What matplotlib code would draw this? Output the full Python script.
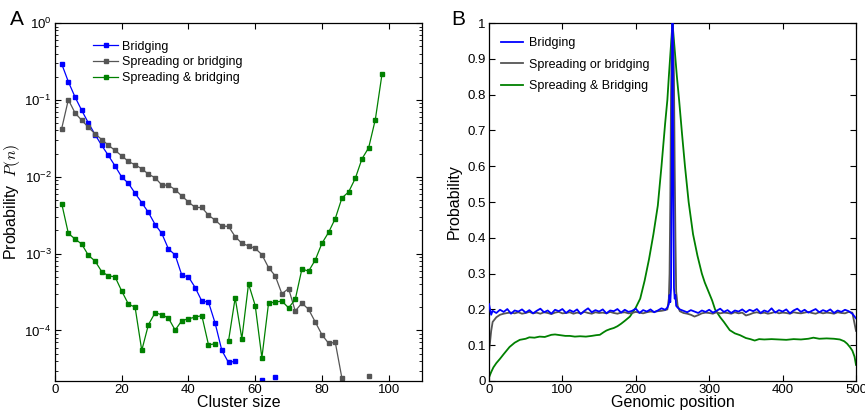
import numpy as np
import matplotlib
matplotlib.use("Agg")
import matplotlib.pyplot as plt
from matplotlib.ticker import LogLocator, NullFormatter, FixedLocator

plt.rcParams['font.family'] = ['Liberation Sans', 'DejaVu Sans']
plt.rcParams['mathtext.fontset'] = 'cm'

# ---- panel A: cluster size distribution ----
nan = np.nan
cluster_size = list(range(2, 100, 2))

p_bridging = [0.294, 0.172, 0.109, 0.0731, 0.0501, 0.0354, 0.0255, 0.0189, 0.0138, 0.0099,
              0.0082, 0.0061, 0.0046, 0.00343, 0.00239, 0.00183, 0.00115, 0.00096, 0.000524, 0.000498,
              0.000362, 0.000241, 0.000234, 0.000124, 5.5e-5, 3.83e-5, 3.98e-5, nan, nan, nan,
              2.25e-5, nan, 2.45e-5, nan, nan, nan, nan, nan, nan, nan,
              nan, nan, nan, nan, nan, nan, nan, nan, nan]

p_spread_or = [0.0424, 0.1006, 0.0676, 0.0543, 0.044, 0.0361, 0.0305, 0.0257, 0.022, 0.0187,
               0.0158, 0.0143, 0.0127, 0.0108, 0.0097, 0.0078, 0.00774, 0.0068, 0.00562, 0.0047,
               0.00398, 0.00398, 0.00316, 0.00272, 0.00228, 0.00226, 0.00166, 0.00136, 0.00126, 0.00117,
               0.00097, 0.000657, 0.000513, 0.0003, 0.000351, 0.000179, 0.000227, 0.000188, 0.000129, 8.8e-5,
               6.8e-5, 7.0e-5, 2.38e-5, nan, nan, nan, 2.57e-5, nan, nan]

p_spread_and = [0.00448, 0.00183, 0.00155, 0.00133, 0.00095, 0.0008, 0.000583, 0.000513, 0.000498, 0.000325,
                0.00022, 0.000201, 5.5e-5, 0.000119, 0.00017, 0.00016, 0.000145, 0.000101, 0.000134, 0.000142,
                0.000149, 0.000156, 6.5e-5, 6.7e-5, nan, 7.3e-5, 0.000266, 7.8e-5, 0.000404, 0.000211,
                4.4e-5, 0.000227, 0.000234, 0.000241, 0.000197, 0.000253, 0.000632, 0.00059, 0.000826, 0.00136,
                0.00189, 0.00286, 0.0053, 0.00634, 0.00953, 0.0171, 0.0238, 0.0554, 0.216]

# ---- panel B: probability along genome ----
pos_bg = ([0, 3] + list(range(5, 241, 5)) + [243] + list(range(245, 256)) + [257]
          + list(range(260, 496, 5)) + [500])

prob_bridging = ([0.215, 0.185]
                 + [0.196, 0.190, 0.199, 0.193, 0.201, 0.188, 0.197, 0.194, 0.200, 0.191,
                    0.198, 0.189, 0.196, 0.202, 0.192, 0.197, 0.188, 0.199, 0.195, 0.201,
                    0.190, 0.198, 0.193, 0.200, 0.187, 0.196, 0.203, 0.192, 0.198, 0.194,
                    0.200, 0.189, 0.197, 0.195, 0.201, 0.191, 0.199, 0.193, 0.196, 0.202,
                    0.190, 0.198, 0.194, 0.200, 0.192, 0.197, 0.203, 0.199]
                 + [0.205]
                 + [0.215, 0.24, 0.22, 0.26, 0.6, 1.0, 0.6, 0.26, 0.23, 0.24, 0.21]
                 + [0.205]
                 + [0.200, 0.196, 0.192, 0.198, 0.194, 0.190, 0.197, 0.193, 0.199, 0.191,
                    0.196, 0.202, 0.193, 0.198, 0.190, 0.197, 0.194, 0.200, 0.192, 0.199,
                    0.195, 0.201, 0.190, 0.197, 0.193, 0.203, 0.191, 0.198, 0.194, 0.200,
                    0.189, 0.197, 0.202, 0.193, 0.199, 0.191, 0.196, 0.201, 0.192, 0.198,
                    0.194, 0.200, 0.190, 0.197, 0.193, 0.199, 0.195, 0.188]
                 + [0.175])

prob_spread_or = ([0.08, 0.14]
                  + [0.165, 0.178, 0.185, 0.188, 0.190,
                     0.191, 0.189, 0.192, 0.188, 0.190, 0.193, 0.189, 0.191, 0.188, 0.192,
                     0.190, 0.187, 0.191, 0.193, 0.189, 0.190, 0.192, 0.188, 0.191, 0.189,
                     0.193, 0.190, 0.188, 0.192, 0.190, 0.191, 0.189, 0.193, 0.190, 0.188,
                     0.191, 0.192, 0.189, 0.190, 0.193, 0.191, 0.189, 0.192, 0.194, 0.193,
                     0.195, 0.196, 0.198]
                  + [0.2]
                  + [0.23, 0.3, 0.5, 0.8, 0.95, 1.0, 0.95, 0.85, 0.6, 0.4, 0.25]
                  + [0.21]
                  + [0.195, 0.190, 0.188, 0.185, 0.180, 0.184, 0.189, 0.191, 0.190, 0.188,
                     0.192, 0.189, 0.191, 0.190, 0.188, 0.192, 0.189, 0.191, 0.183, 0.186,
                     0.190, 0.192, 0.189, 0.191, 0.188, 0.190, 0.193, 0.189, 0.191, 0.190,
                     0.188, 0.192, 0.190, 0.189, 0.191, 0.193, 0.190, 0.188, 0.192, 0.189,
                     0.191, 0.190, 0.188, 0.192, 0.190, 0.189, 0.193, 0.191]
                  + [0.14])

pos_green = [0, 3, 6, 10, 15, 20, 28, 35, 42, 50, 55, 62, 69, 76, 85, 90, 97, 104, 110, 117,
             124, 132, 140, 146, 151, 156, 160, 165, 170, 175, 180, 185, 192, 200, 206, 212, 218, 224, 230, 235,
             240, 243, 245, 247.5, 250, 253, 256, 259, 263, 267, 272, 278, 284, 290, 294, 300, 304, 308, 315, 320,
             328, 335, 342, 350, 356, 362, 368, 375, 385, 395, 405, 415, 425, 435, 442, 450, 460, 470, 478, 484,
             488, 492, 495, 498, 500]
prob_spread_and = [0.01, 0.025, 0.038, 0.05, 0.062, 0.075, 0.095, 0.107, 0.115, 0.118,
                   0.122, 0.121, 0.124, 0.123, 0.129, 0.130, 0.128, 0.126, 0.126, 0.124,
                   0.125, 0.124, 0.126, 0.128, 0.129, 0.136, 0.141, 0.145, 0.148, 0.153,
                   0.16, 0.168, 0.18, 0.205, 0.23, 0.28, 0.34, 0.41, 0.49, 0.6,
                   0.72, 0.785, 0.85, 0.925, 1.0, 0.925, 0.85, 0.785, 0.69, 0.60,
                   0.50, 0.41, 0.35, 0.30, 0.275, 0.245, 0.225, 0.20, 0.178, 0.165,
                   0.142, 0.133, 0.128, 0.12, 0.117, 0.113, 0.117, 0.116, 0.117, 0.116,
                   0.115, 0.117, 0.116, 0.118, 0.121, 0.118, 0.119, 0.118, 0.116, 0.111,
                   0.104, 0.094, 0.085, 0.068, 0.045]

blue = '#0000ff'
grey = '#555555'
green = '#008000'

fig = plt.figure(figsize=(8.65, 4.11), dpi=100)
axA = fig.add_axes([0.0636, 0.073, 0.4243, 0.871])
axB = fig.add_axes([0.5653, 0.073, 0.4243, 0.871])

mk = dict(marker='s', markersize=3.3, linewidth=0.9)
axA.plot(cluster_size, p_bridging, color=blue, label='Bridging', **mk)
axA.plot(cluster_size, p_spread_or, color=grey, label='Spreading or bridging', **mk)
axA.plot(cluster_size, p_spread_and, color=green, label='Spreading & bridging', **mk)
axA.set_yscale('log')
axA.set_xlim(0, 110)
axA.set_ylim(2.2e-5, 1)
axA.set_xticks([0, 20, 40, 60, 80, 100])
axA.yaxis.set_major_locator(FixedLocator([1e-4, 1e-3, 1e-2, 1e-1, 1]))
axA.yaxis.set_minor_locator(LogLocator(base=10, subs=np.arange(2, 10), numticks=20))
axA.yaxis.set_minor_formatter(NullFormatter())
axA.set_xlabel('Cluster size', fontsize=11.5, labelpad=-1)
axA.set_ylabel('Probability  $P(n)$', fontsize=11.5, labelpad=2)
axA.legend(loc='upper left', bbox_to_anchor=(0.08, 0.975), frameon=False, fontsize=9,
           handlelength=2.0, handletextpad=0.3, labelspacing=0.3, borderaxespad=0.3)

axB.plot(pos_bg, prob_spread_or, color=grey, linewidth=1.3, label='Spreading or bridging')
axB.plot(pos_bg, prob_bridging, color=blue, linewidth=1.3, label='Bridging', zorder=3)
axB.plot(pos_green, prob_spread_and, color=green, linewidth=1.3, label='Spreading & Bridging', zorder=1)
axB.set_xlim(0, 500)
axB.set_ylim(0, 1)
axB.set_xticks([0, 100, 200, 300, 400, 500])
axB.set_yticks(np.round(np.arange(0, 1.01, 0.1), 1))
axB.set_yticklabels(['0', '0.1', '0.2', '0.3', '0.4', '0.5', '0.6', '0.7', '0.8', '0.9', '1'])
axB.set_xlabel('Genomic position', fontsize=11.5, labelpad=-1)
axB.set_ylabel('Probability', fontsize=11.5, labelpad=4)
h, l = axB.get_legend_handles_labels()
order = [1, 0, 2]
axB.legend([h[i] for i in order], [l[i] for i in order], loc='upper left',
           bbox_to_anchor=(0.01, 0.985), frameon=False,
           fontsize=9, handlelength=1.7, handletextpad=0.5, labelspacing=0.75, borderaxespad=0.3)

for ax in (axA, axB):
    ax.tick_params(which='both', direction='in', top=True, right=True, labelsize=9.5, pad=2.5)
    ax.tick_params(which='major', length=4)
    ax.tick_params(which='minor', length=2)
    for s in ax.spines.values():
        s.set_linewidth(0.9)

fig.text(0.012, 0.94, 'A', fontsize=15)
fig.text(0.522, 0.94, 'B', fontsize=15)

fig.savefig('out.png', dpi=100)
